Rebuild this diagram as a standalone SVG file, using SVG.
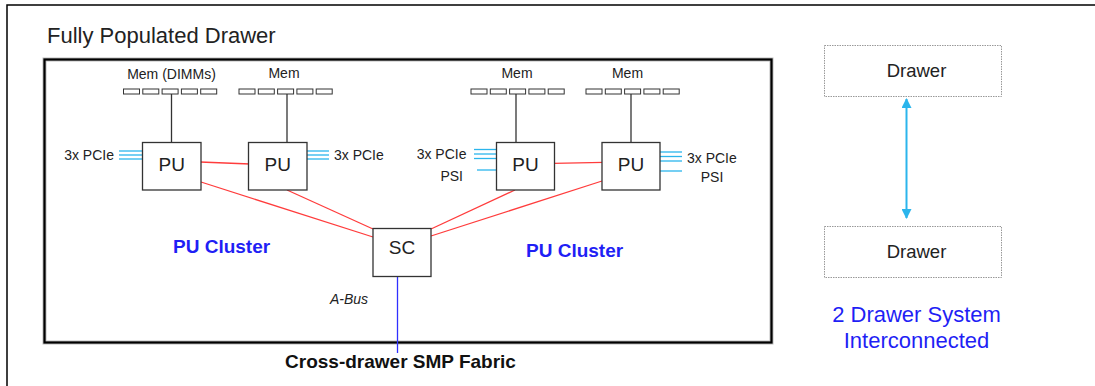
<svg xmlns="http://www.w3.org/2000/svg" width="1095" height="386" viewBox="0 0 1095 386">
<style>
text{font-family:"Liberation Sans",Arial,sans-serif;fill:#222}
.lbl{font-size:14px}
.pu{font-size:19px}
.clu{font-size:19px;font-weight:bold;fill:#1f1ff5}
.box{fill:#fff;stroke:#333;stroke-width:1.3}
.slot{fill:#fff;stroke:#333;stroke-width:1}
.mline{stroke:#333;stroke-width:1.3}
.red{stroke:#ff3c3c;stroke-width:1.3;fill:none}
.pcie{stroke:#2bb5ec;stroke-width:1.3}
.drw{fill:#fff;stroke:#999;stroke-width:1;stroke-dasharray:1.5 1}
.sys{font-size:22px;fill:#1f1ff5}
</style>
<defs>
<g id="mem">
<rect class="slot" x="0" y="0" width="16" height="5"/>
<rect class="slot" x="19.3" y="0" width="16" height="5"/>
<rect class="slot" x="38.6" y="0" width="16" height="5"/>
<rect class="slot" x="57.9" y="0" width="16" height="5"/>
<rect class="slot" x="77.2" y="0" width="16" height="5"/>
</g>
<marker id="ah" viewBox="0 0 10 10" refX="9" refY="5" markerWidth="5" markerHeight="5" orient="auto-start-reverse">
<path d="M0,0 L10,5 L0,10 z" fill="#2bb5ec"/>
</marker>
</defs>
<rect width="1095" height="386" fill="#fff"/>
<g id="frame">
<path d="M7,386 V5 H1095" fill="none" stroke="#000" stroke-width="1.5"/>
</g>
<text x="47" y="43" style="font-size:22px">Fully Populated Drawer</text>
<g id="drawer-box">
<rect x="44.5" y="59.5" width="727" height="283" fill="none" stroke="#bbb" stroke-width="4"/>
<rect x="44.5" y="59.5" width="727" height="283" fill="none" stroke="#000" stroke-width="2.2"/>
</g>
<g id="connectors">
<line class="mline" x1="171.5" y1="94" x2="171.5" y2="142"/>
<line class="mline" x1="287" y1="94" x2="287" y2="142"/>
<line class="mline" x1="516" y1="94" x2="516" y2="142"/>
<line class="mline" x1="631" y1="94" x2="631" y2="142"/>
<line class="red" x1="200" y1="162" x2="250" y2="164"/>
<line class="red" x1="553" y1="163.3" x2="604" y2="162.3"/>
<line class="red" x1="201" y1="182" x2="373" y2="237"/>
<line class="red" x1="287" y1="190" x2="373" y2="229"/>
<line class="red" x1="515" y1="190" x2="431" y2="229"/>
<line class="red" x1="602" y1="181" x2="431" y2="236"/>
<line x1="397.5" y1="277" x2="397.5" y2="353" stroke="#3030ff" stroke-width="1.3"/>
<g class="pcie">
<line x1="119" y1="151" x2="142" y2="151"/><line x1="119" y1="155" x2="142" y2="155"/><line x1="119" y1="159" x2="142" y2="159"/>
<line x1="307" y1="151" x2="329" y2="151"/><line x1="307" y1="155" x2="329" y2="155"/><line x1="307" y1="159" x2="329" y2="159"/>
<line x1="474" y1="149.5" x2="497" y2="149.5"/><line x1="474" y1="154" x2="497" y2="154"/><line x1="474" y1="158.5" x2="497" y2="158.5"/>
<line x1="477" y1="170" x2="499" y2="170"/>
<line x1="660" y1="152" x2="682" y2="152"/><line x1="660" y1="156.5" x2="682" y2="156.5"/><line x1="660" y1="161" x2="682" y2="161"/>
<line x1="660" y1="171" x2="682" y2="171"/>
</g>
<line x1="906.5" y1="99" x2="906.5" y2="218" stroke="#2bb5ec" stroke-width="2" marker-start="url(#ah)" marker-end="url(#ah)"/>
</g>
<g id="mem1"><use href="#mem" x="123.5" y="89"/><text class="lbl" x="171.5" y="79" text-anchor="middle">Mem (DIMMs)</text></g>
<g id="mem2"><use href="#mem" x="239" y="89"/><text class="lbl" x="284" y="78" text-anchor="middle">Mem</text></g>
<g id="mem3"><use href="#mem" x="471" y="89"/><text class="lbl" x="517" y="78" text-anchor="middle">Mem</text></g>
<g id="mem4"><use href="#mem" x="586" y="89"/><text class="lbl" x="627.5" y="78" text-anchor="middle">Mem</text></g>
<g id="pu1"><rect class="box" x="142.5" y="142.5" width="58.5" height="47.5"/><text class="pu" x="171.75" y="171" text-anchor="middle">PU</text><text class="lbl" x="114" y="160" text-anchor="end">3x PCIe</text></g>
<g id="pu2"><rect class="box" x="248.5" y="142.5" width="58.5" height="47.5"/><text class="pu" x="277.75" y="171" text-anchor="middle">PU</text><text class="lbl" x="334" y="160">3x PCIe</text></g>
<g id="pu3"><rect class="box" x="496.5" y="142.5" width="58" height="47.5"/><text class="pu" x="525.5" y="171" text-anchor="middle">PU</text><text class="lbl" x="466.5" y="159" text-anchor="end">3x PCIe</text><text class="lbl" x="463" y="181" text-anchor="end">PSI</text></g>
<g id="pu4"><rect class="box" x="602" y="142.5" width="58" height="47.5"/><text class="pu" x="631" y="171" text-anchor="middle">PU</text><text class="lbl" x="687" y="163">3x PCIe</text><text class="lbl" x="712" y="182" text-anchor="middle">PSI</text></g>
<g id="sc"><rect class="box" x="373" y="228.5" width="58" height="48"/><text class="pu" x="402" y="254" text-anchor="middle">SC</text></g>
<text class="clu" x="173" y="253">PU Cluster</text>
<text class="clu" x="526" y="257">PU Cluster</text>
<text x="349" y="304" text-anchor="middle" style="font-size:14px;font-style:italic">A-Bus</text>
<text x="400.5" y="368" text-anchor="middle" style="font-size:19px;font-weight:bold;fill:#111">Cross-drawer SMP Fabric</text>
<g id="drawer-top"><rect class="drw" x="824.5" y="45.5" width="177" height="51"/><text x="916.5" y="77" text-anchor="middle" style="font-size:18.5px">Drawer</text></g>
<g id="drawer-bottom"><rect class="drw" x="824.5" y="226.5" width="177" height="51"/><text x="916.5" y="258" text-anchor="middle" style="font-size:18.5px">Drawer</text></g>
<text class="sys" x="916.5" y="322" text-anchor="middle">2 Drawer System</text>
<text class="sys" x="916.5" y="348" text-anchor="middle">Interconnected</text>
</svg>
